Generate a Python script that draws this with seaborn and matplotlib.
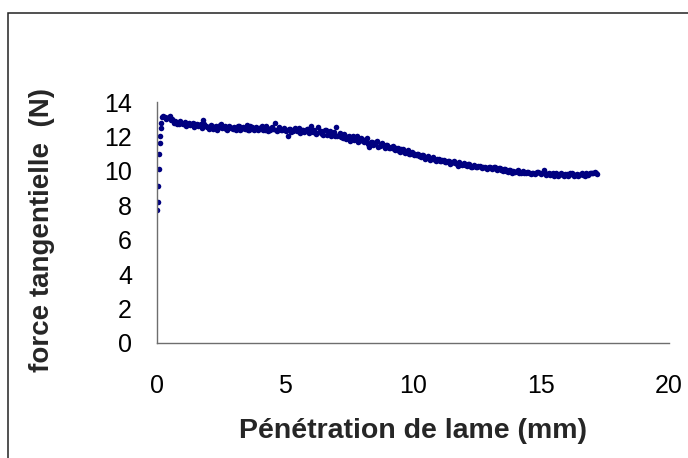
import numpy as np
import pandas as pd
import matplotlib
matplotlib.use('Agg')
import matplotlib.pyplot as plt
import matplotlib.patches as mpatches
import seaborn as sns

# rising part at the very start of the cut
x_rise = [0.0, 0.02, 0.04, 0.06, 0.08, 0.1, 0.12, 0.14, 0.17, 0.2, 0.24]
y_rise = [7.7, 8.2, 9.1, 10.1, 11.0, 11.6, 12.0, 12.5, 12.8, 13.1, 13.2]

# steady part, x = 0.3 .. 17.2 mm
x_main = [
    0.3, 0.4, 0.5, 0.6, 0.7, 0.8, 0.9,
    1.0, 1.1, 1.2, 1.3, 1.4, 1.5, 1.6, 1.7, 1.8, 1.9,
    2.0, 2.1, 2.2, 2.3, 2.4, 2.5, 2.6, 2.7, 2.8, 2.9,
    3.0, 3.1, 3.2, 3.3, 3.4, 3.5, 3.6, 3.7, 3.8, 3.9,
    4.0, 4.1, 4.2, 4.3, 4.4, 4.5, 4.6, 4.7, 4.8, 4.9,
    5.0, 5.1, 5.2, 5.3, 5.4, 5.5, 5.6, 5.7, 5.8, 5.9,
    6.0, 6.1, 6.2, 6.3, 6.4, 6.5, 6.6, 6.7, 6.8, 6.9,
    7.0, 7.1, 7.2, 7.3, 7.4, 7.5, 7.6, 7.7, 7.8, 7.9,
    8.0, 8.1, 8.2, 8.3, 8.4, 8.5, 8.6, 8.7, 8.8, 8.9,
    9.0, 9.1, 9.2, 9.3, 9.4, 9.5, 9.6, 9.7, 9.8, 9.9,
    10.0, 10.1, 10.2, 10.3, 10.4, 10.5, 10.6, 10.7, 10.8, 10.9,
    11.0, 11.1, 11.2, 11.3, 11.4, 11.5, 11.6, 11.7, 11.8, 11.9,
    12.0, 12.1, 12.2, 12.3, 12.4, 12.5, 12.6, 12.7, 12.8, 12.9,
    13.0, 13.1, 13.2, 13.3, 13.4, 13.5, 13.6, 13.7, 13.8, 13.9,
    14.0, 14.1, 14.2, 14.3, 14.4, 14.5, 14.6, 14.7, 14.8, 14.9,
    15.0, 15.1, 15.2, 15.3, 15.4, 15.5, 15.6, 15.7, 15.8, 15.9,
    16.0, 16.1, 16.2, 16.3, 16.4, 16.5, 16.6, 16.7, 16.8, 16.9,
    17.0, 17.1, 17.2,
]
y_main = [
    13.15, 13.05, 13.2, 13.0, 12.9, 12.75, 12.9,
    12.7, 12.85, 12.75, 12.65, 12.8, 12.7, 12.6, 12.75, 12.95, 12.6,
    12.55, 12.65, 12.45, 12.6, 12.5, 12.7, 12.55, 12.45, 12.6, 12.5,
    12.55, 12.4, 12.6, 12.45, 12.5, 12.65, 12.4, 12.55, 12.35, 12.5,
    12.45, 12.6, 12.35, 12.5, 12.4, 12.55, 12.8, 12.3, 12.45, 12.35,
    12.4, 12.0, 12.45, 12.3, 12.5, 12.35, 12.2, 12.4, 12.3, 12.45,
    12.6, 12.25, 12.15, 12.55, 12.3, 12.1, 12.35, 12.2, 12.05, 12.25,
    12.55, 12.1, 11.95, 12.15, 11.85, 12.05, 11.9, 11.8, 12.0, 11.75,
    11.85, 11.65, 11.9, 11.4, 11.7, 11.55, 11.75, 11.45, 11.6, 11.35,
    11.5, 11.3, 11.45, 11.2, 11.35, 11.1, 11.25, 11.05, 11.2, 11.0,
    11.05, 10.9, 11.0, 10.8, 10.95, 10.75, 10.85, 10.7, 10.8, 10.6,
    10.7, 10.55, 10.65, 10.5, 10.6, 10.45, 10.55, 10.4, 10.5, 10.35,
    10.45, 10.3, 10.4, 10.25, 10.35, 10.2, 10.3, 10.15, 10.25, 10.1,
    10.2, 10.1, 10.25, 10.05, 10.15, 10.0, 10.1, 9.95, 10.05, 10.0,
    9.95, 10.05, 9.9, 10.0, 9.85, 9.95, 9.8, 9.9, 9.85, 9.95,
    9.8, 10.05, 9.75, 9.9, 9.8, 9.7, 9.85, 9.75, 9.9, 9.7,
    9.8, 9.75, 9.9, 9.7, 9.8, 9.75, 9.85, 9.7, 9.8, 9.9,
    9.85, 9.95, 9.8,
]

# samples in between, x = 0.35 .. 17.15 mm
x_mid = [
    0.35, 0.45, 0.55, 0.65, 0.75, 0.85, 0.95,
    1.05, 1.15, 1.25, 1.35, 1.45, 1.55, 1.65, 1.75, 1.85, 1.95,
    2.05, 2.15, 2.25, 2.35, 2.45, 2.55, 2.65, 2.75, 2.85, 2.95,
    3.05, 3.15, 3.25, 3.35, 3.45, 3.55, 3.65, 3.75, 3.85, 3.95,
    4.05, 4.15, 4.25, 4.35, 4.45, 4.55, 4.65, 4.75, 4.85, 4.95,
    5.05, 5.15, 5.25, 5.35, 5.45, 5.55, 5.65, 5.75, 5.85, 5.95,
    6.05, 6.15, 6.25, 6.35, 6.45, 6.55, 6.65, 6.75, 6.85, 6.95,
    7.05, 7.15, 7.25, 7.35, 7.45, 7.55, 7.65, 7.75, 7.85, 7.95,
    8.05, 8.15, 8.25, 8.35, 8.45, 8.55, 8.65, 8.75, 8.85, 8.95,
    9.05, 9.15, 9.25, 9.35, 9.45, 9.55, 9.65, 9.75, 9.85, 9.95,
    10.05, 10.15, 10.25, 10.35, 10.45, 10.55, 10.65, 10.75, 10.85, 10.95,
    11.05, 11.15, 11.25, 11.35, 11.45, 11.55, 11.65, 11.75, 11.85, 11.95,
    12.05, 12.15, 12.25, 12.35, 12.45, 12.55, 12.65, 12.75, 12.85, 12.95,
    13.05, 13.15, 13.25, 13.35, 13.45, 13.55, 13.65, 13.75, 13.85, 13.95,
    14.05, 14.15, 14.25, 14.35, 14.45, 14.55, 14.65, 14.75, 14.85, 14.95,
    15.05, 15.15, 15.25, 15.35, 15.45, 15.55, 15.65, 15.75, 15.85, 15.95,
    16.05, 16.15, 16.25, 16.35, 16.45, 16.55, 16.65, 16.75, 16.85, 16.95,
    17.05, 17.15,
]
y_mid = [
    13.0, 13.15, 12.95, 12.8, 12.85, 12.7, 12.8,
    12.75, 12.6, 12.8, 12.7, 12.55, 12.75, 12.65, 12.5, 12.7, 12.55,
    12.45, 12.6, 12.55, 12.4, 12.65, 12.5, 12.6, 12.4, 12.55, 12.45,
    12.5, 12.6, 12.35, 12.55, 12.45, 12.4, 12.6, 12.45, 12.55, 12.4,
    12.55, 12.4, 12.6, 12.3, 12.5, 12.45, 12.35, 12.55, 12.4, 12.5,
    12.3, 12.45, 12.25, 12.4, 12.3, 12.5, 12.35, 12.25, 12.45, 12.2,
    12.35, 12.4, 12.2, 12.3, 12.15, 12.4, 12.1, 12.3, 12.15, 12.0,
    12.05, 12.2, 11.9, 12.0, 11.95, 11.75, 12.05, 11.85, 11.7, 11.9,
    11.75, 11.8, 11.55, 11.7, 11.5, 11.65, 11.4, 11.55, 11.45, 11.5,
    11.35, 11.4, 11.25, 11.3, 11.15, 11.25, 11.1, 11.15, 11.0, 11.1,
    10.95, 11.0, 10.85, 10.9, 10.7, 10.8, 10.65, 10.75, 10.65, 10.7,
    10.6, 10.65, 10.5, 10.55, 10.4, 10.5, 10.45, 10.3, 10.4, 10.4,
    10.35, 10.4, 10.2, 10.3, 10.25, 10.3, 10.2, 10.25, 10.15, 10.2,
    10.15, 10.2, 10.1, 10.15, 10.05, 10.1, 10.0, 10.05, 9.9, 9.95,
    10.0, 9.9, 9.95, 9.85, 9.95, 9.85, 9.9, 9.8, 9.95, 9.85,
    9.9, 9.85, 9.8, 9.75, 9.85, 9.8, 9.7, 9.8, 9.75, 9.8,
    9.7, 9.85, 9.8, 9.75, 9.7, 9.8, 9.75, 9.85, 9.75, 9.85,
    9.9, 9.85,
]

x_ticks = [0, 5, 10, 15, 20]
y_ticks = [0, 2, 4, 6, 8, 10, 12, 14]

NAVY = '#000080'
AXIS = '#6e6e6e'

sns.set_style('white')
plt.rcParams['font.family'] = ['Liberation Sans', 'DejaVu Sans']

df = pd.DataFrame({'x': x_rise + x_main + x_mid,
                   'y': y_rise + y_main + y_mid})

fig = plt.figure(figsize=(6.88, 4.58), dpi=100)
ax = fig.add_axes([157 / 688, 1 - 343 / 458, 512 / 688, 241 / 458])

sns.scatterplot(data=df, x='x', y='y', ax=ax, color=NAVY, s=16,
                marker='o', linewidth=0, legend=False)

ax.set_xlim(0, 20)
ax.set_ylim(0, 14)
ax.set_xticks(x_ticks)
ax.set_yticks(y_ticks)
ax.tick_params(axis='both', direction='out', color=AXIS, width=1,
               labelsize=18, labelcolor='black')
ax.tick_params(axis='x', length=9, pad=13)
ax.tick_params(axis='y', length=7, pad=11)

for side in ['top', 'right']:
    ax.spines[side].set_visible(False)
for side in ['left', 'bottom']:
    ax.spines[side].set_color(AXIS)
    ax.spines[side].set_linewidth(1)

ax.set_xlabel('Pénétration de lame (mm)', fontsize=20.5, fontweight='bold')
ax.set_ylabel('force tangentielle  (N)', fontsize=20, fontweight='bold')
ax.xaxis.set_label_coords(0.5, -0.31)
ax.yaxis.set_label_coords(-0.2, 0.47)

# outer chart-area border (continues past the right/bottom edge of the crop)
border = mpatches.Rectangle((8 / 688, -0.2), 1.3, 0.2 + 1 - 13 / 458,
                            transform=fig.transFigure, fill=False,
                            edgecolor='#222222', linewidth=1.1, clip_on=False)
fig.patches.append(border)

fig.savefig('out.png', dpi=100)
